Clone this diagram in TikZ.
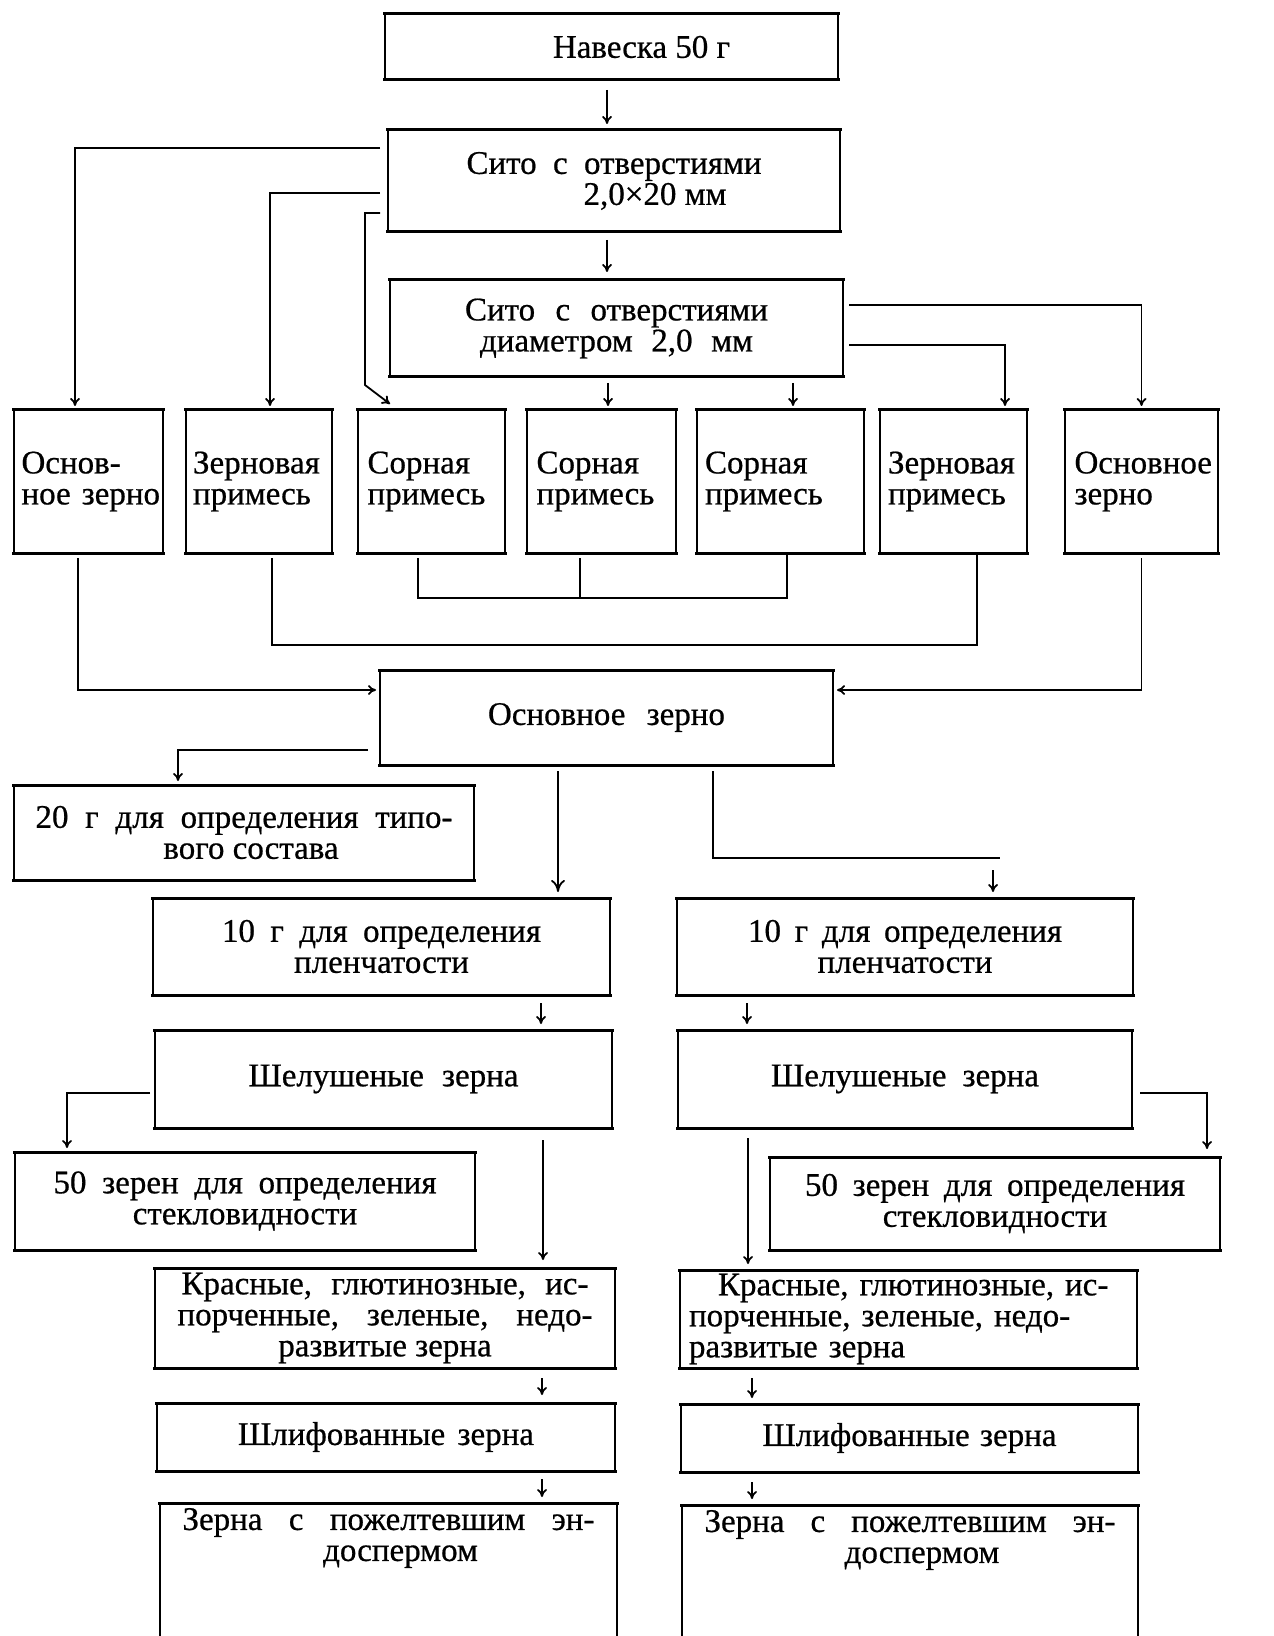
\documentclass[tikz,border=0pt]{standalone}
\usepackage{fontspec}
\setmainfont{Liberation Serif}[FakeBold=0.6]
\usetikzlibrary{arrows.meta,calc}
\newcommand\fsz{\fontsize{16.5}{15.5}\selectfont}
\begin{document}
\begin{tikzpicture}[x=0.5pt,y=-0.5pt,
  bx/.style={inner sep=0pt, outer sep=0pt, font=\fsz, align=center},
  rowbox/.style={bx, align=left, minimum height=71.5pt},
  hl/.style={line width=1.5pt},
  vl/.style={line width=0.9pt},
  cn/.style={line width=0.9pt},
  arr/.style={cn, -{To[length=4pt,width=5pt]}},
  bigarr/.style={cn, -{To[length=6pt,width=7pt]}}]
\useasboundingbox (0,0) rectangle (1273,1636);
\fill[white] (0,0) rectangle (1273,1636);
% boxes
\node[bx, minimum width=226.5pt, minimum height=33pt] (A) at (611.5,47) {\hspace*{30pt}Навеска 50 г};
\node[bx, minimum width=226pt, minimum height=51pt] (B) at (614,181) {\makebox[147.5pt][s]{Сито с отверстиями}\\\hspace*{41pt}2,0×20 мм};
\node[bx, minimum width=226.5pt, minimum height=48.5pt] (C) at (616.5,328.5) {\makebox[151.5pt][s]{Сито с отверстиями}\\\makebox[136.5pt][s]{диаметром 2,0 мм}};
\node[rowbox, minimum width=74.5pt, text width=67pt] (R1) at (88.5,481.5) {\mbox{Основ-}\\\mbox{ное зерно}};
\node[rowbox, minimum width=73pt, text width=66pt] (R2) at (259,481.5) {\mbox{Зерновая}\\\mbox{примесь}};
\node[rowbox, minimum width=73.5pt, text width=64pt] (R3) at (431.5,481.5) {\mbox{Сорная}\\\mbox{примесь}};
\node[rowbox, minimum width=74.5pt, text width=65pt] (R4) at (601.5,481.5) {\mbox{Сорная}\\\mbox{примесь}};
\node[rowbox, minimum width=83.5pt, text width=75.5pt] (R5) at (780.5,481.5) {\mbox{Сорная}\\\mbox{примесь}};
\node[rowbox, minimum width=73.5pt, text width=65.5pt] (R6) at (953.5,481.5) {\mbox{Зерновая}\\\mbox{примесь}};
\node[rowbox, minimum width=76.5pt, text width=67pt] (R7) at (1141.5,481.5) {\mbox{Основное}\\\mbox{зерно}};
\node[bx, minimum width=226.5pt, minimum height=47.5pt] (D) at (606.5,717.5) {\makebox[118.5pt][s]{Основное зерно}};
\node[bx, minimum width=230pt, minimum height=47.5pt] (E) at (244,832.5) {\makebox[208.5pt][s]{20 г для определения типо-}\\\hspace*{7pt}вого состава};
\node[bx, minimum width=228.5pt, minimum height=48.5pt] (F) at (381.5,946.5) {\makebox[159.5pt][s]{10 г для определения}\\пленчатости};
\node[bx, minimum width=228pt, minimum height=48.5pt] (G) at (905,946.5) {\makebox[157pt][s]{10 г для определения}\\пленчатости};
\node[bx, minimum width=228.5pt, minimum height=49pt] (H) at (383.5,1079) {\makebox[135pt][s]{Шелушеные зерна}};
\node[bx, minimum width=227pt, minimum height=49pt] (I) at (905,1079) {\makebox[134pt][s]{Шелушеные зерна}};
\node[bx, minimum width=230pt, minimum height=49pt] (J) at (245,1201) {\makebox[191.5pt][s]{50 зерен для определения}\\стекловидности};
\node[bx, minimum width=225pt, minimum height=46.5pt] (K) at (995,1203.5) {\makebox[190pt][s]{50 зерен для определения}\\стекловидности};
\node[bx, minimum width=230pt, minimum height=50pt] (L) at (385,1318) {\makebox[203.5pt][s]{Красные, глютинозные, ис-}\\\makebox[207.5pt][s]{порченные, зеленые, недо-}\\развитые зерна};
\node[bx, align=left, text width=219.5pt, minimum width=228.5pt, minimum height=49pt] (M) at (908.5,1319) {\hspace*{14.5pt}\makebox[196pt][s]{Красные, глютинозные, ис-}\\\makebox[210.5pt][s]{порченные, зеленые, недо-}\\развитые зерна};
\node[bx, minimum width=229pt, minimum height=34pt] (N) at (386,1437) {\makebox[148pt][s]{Шлифованные зерна}};
\node[bx, minimum width=228.5pt, minimum height=34pt] (O) at (909.5,1438) {\makebox[147pt][s]{Шлифованные зерна}};
\node[bx, minimum width=228.5pt, minimum height=35pt] (P) at (388.5,1538) {\makebox[206pt][s]{Зерна с пожелтевшим эн-}\\\hspace*{12pt}доспермом};
\node[bx, minimum width=228pt, minimum height=35pt] (Q) at (910,1540) {\makebox[205.5pt][s]{Зерна с пожелтевшим эн-}\\\hspace*{12pt}доспермом};
% box outlines
\foreach \n in {A,B,C,R1,R2,R3,R4,R5,R6,R7,D,E,F,G,H,I,J,K,L,M,N,O}{
  \draw[hl] ([xshift=-1pt]\n.north west) -- ([xshift=1pt]\n.north east);
  \draw[hl] ([xshift=-1pt]\n.south west) -- ([xshift=1pt]\n.south east);
  \draw[vl] (\n.north west) -- (\n.south west);
  \draw[vl] (\n.north east) -- (\n.south east);
}
\coordinate (bot) at (0,1636);
\foreach \n in {P,Q}{
  \draw[hl] ([xshift=-1pt]\n.north west) -- ([xshift=1pt]\n.north east);
  \draw[vl] (\n.north west) -- (\n.north west |- bot);
  \draw[vl] (\n.north east) -- (\n.north east |- bot);
}
% A -> B -> C
\coordinate (xab) at ([xshift=-2.25pt]A.south);
\draw[arr, shorten <=5pt, shorten >=3pt] (xab) -- (xab |- B.north);
\coordinate (xbc) at ([xshift=-3.5pt]B.south);
\draw[arr, shorten <=4pt, shorten >=4pt] (xbc) -- (xbc |- C.north);
% B left branches
\draw[arr, shorten >=2pt] ([xshift=-4pt,yshift=-9pt]B.north west) -| ([xshift=-6.75pt]R1.north);
\draw[arr, shorten >=2pt] ([xshift=-4pt,yshift=-31.5pt]B.north west) -| ([xshift=5.5pt]R2.north);
\coordinate (k3) at ([xshift=3.5pt,yshift=12.5pt]R3.north west);
\coordinate (t3) at ([xshift=16pt,yshift=3pt]R3.north west);
\draw[arr] ([xshift=-4pt,yshift=-41.5pt]B.north west) -| (k3) -- (t3);
% C right branches
\draw[arr, shorten >=2pt] ([xshift=3pt,yshift=-12.5pt]C.north east) -| (R7.north);
\draw[arr, shorten >=2pt] ([xshift=3pt,yshift=-32.5pt]C.north east) -| ([xshift=25.75pt]R6.north);
% C bottom arrows
\coordinate (r4t) at ([xshift=3.25pt]R4.north);
\draw[arr, shorten <=3pt, shorten >=2pt] (C.south -| r4t) -- (r4t);
\coordinate (r5t) at ([xshift=6.25pt]R5.north);
\draw[arr, shorten <=3pt, shorten >=2pt] (C.south -| r5t) -- (r5t);
% merges below row
\coordinate (r3b) at ([xshift=-6.75pt]R3.south);
\coordinate (r4b) at ([xshift=-10.75pt]R4.south);
\coordinate (r5b) at ([xshift=3.25pt]R5.south);
\coordinate (m1) at ([yshift=-22.5pt]r3b);
\draw[cn, shorten <=2.5pt] (r3b) -- (m1) -| (r5b);
\draw[cn, shorten <=2.5pt] (r4b) -- (r4b |- m1);
\coordinate (r2b) at ([xshift=6.5pt]R2.south);
\coordinate (r6b) at ([xshift=11.75pt]R6.south);
\coordinate (m2) at ([yshift=-46pt]r2b);
\draw[cn, shorten <=2.5pt] (r2b) -- (m2) -| (r6b);
\coordinate (r1b) at ([xshift=-5.25pt]R1.south);
\draw[arr, shorten <=2.5pt, shorten >=2pt] (r1b) |- ([yshift=-10pt]D.north west);
\draw[arr, shorten <=2.5pt, shorten >=2pt] (R7.south) |- ([yshift=-10pt]D.north east);
% D outputs
\draw[arr, shorten >=2pt] ([xshift=-6pt,yshift=7.5pt]D.south west) -| ([xshift=-33pt]E.north);
\coordinate (ft) at ([xshift=88.25pt]F.north);
\draw[bigarr, shorten <=3pt, shorten >=3pt] (D.south -| ft) -- (ft);
\coordinate (gt) at ([xshift=44pt]G.north);
\coordinate (dg) at ([xshift=53.25pt]D.south);
\draw[cn, shorten <=3pt] (dg) |- ([xshift=3.5pt,yshift=20pt]gt);
\draw[arr, shorten >=3pt] ([yshift=14pt]gt) -- (gt);
% F,G -> H,I
\coordinate (ht) at ([xshift=78.75pt]H.north);
\draw[arr, shorten <=4pt, shorten >=3pt] (F.south -| ht) -- (ht);
\coordinate (it) at ([xshift=-79pt]I.north);
\draw[arr, shorten <=4pt, shorten >=3pt] (G.south -| it) -- (it);
% H,I side branches
\draw[arr, shorten >=2pt] ([xshift=-2.5pt,yshift=17.5pt]H.south west) -| ([xshift=-89pt]J.north);
\draw[arr, shorten >=4pt] ([xshift=4pt,yshift=17.5pt]I.south east) -| ([xshift=106pt]K.north);
% H,I -> L,M
\coordinate (lt) at ([xshift=79pt]L.north);
\draw[arr, shorten <=6pt, shorten >=4pt] (H.south -| lt) -- (lt);
\coordinate (mt) at ([xshift=-80.25pt]M.north);
\draw[arr, shorten <=5pt, shorten >=3pt] (I.south -| mt) -- (mt);
% L,M -> N,O
\coordinate (nt) at ([xshift=78pt]N.north);
\draw[arr, shorten <=5pt, shorten >=4pt] (L.south -| nt) -- (nt);
\coordinate (ot) at ([xshift=-78.75pt]O.north);
\draw[arr, shorten <=5pt, shorten >=3pt] (M.south -| ot) -- (ot);
% N,O -> P,Q
\coordinate (pnt) at ([xshift=76.75pt]P.north);
\draw[arr, shorten <=4pt, shorten >=3pt] (N.south -| pnt) -- (pnt);
\coordinate (qnt) at ([xshift=-79pt]Q.north);
\draw[arr, shorten <=5pt, shorten >=3pt] (O.south -| qnt) -- (qnt);
\end{tikzpicture}
\end{document}
